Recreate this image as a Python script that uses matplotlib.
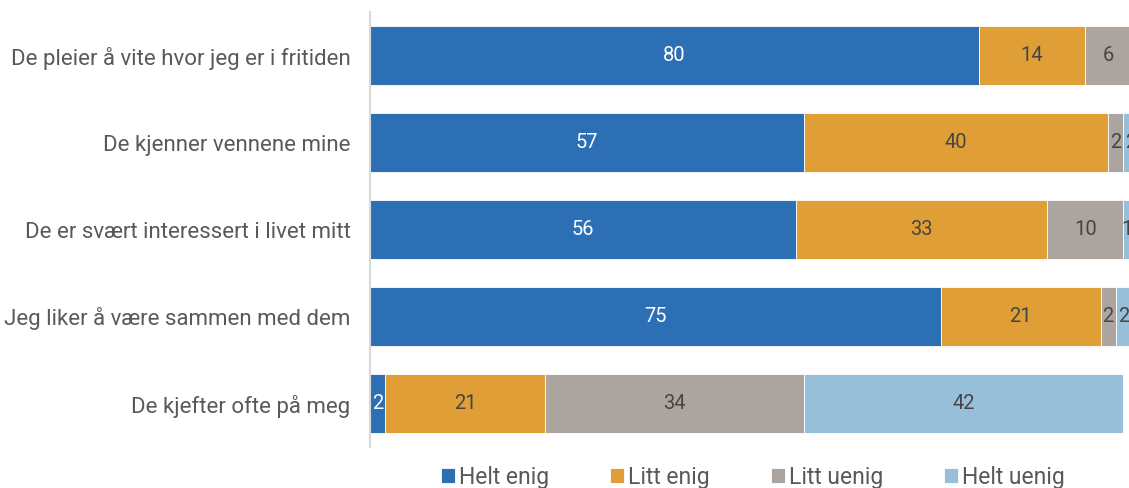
import matplotlib.pyplot as plt
import numpy as np

plt.rcParams['font.family'] = ['Roboto', 'DejaVu Sans']

categories = [
    "De pleier å vite hvor jeg er i fritiden",
    "De kjenner vennene mine",
    "De er svært interessert i livet mitt",
    "Jeg liker å være sammen med dem",
    "De kjefter ofte på meg",
]
series = ["Helt enig", "Litt enig", "Litt uenig", "Helt uenig"]
helt_enig = [80, 57, 56, 75, 2]
litt_enig = [14, 40, 33, 21, 21]
litt_uenig = [6, 2, 10, 2, 34]
helt_uenig = [1, 2, 1, 2, 42]
values = [helt_enig, litt_enig, litt_uenig, helt_uenig]

colors = ["#2d6fb5", "#e09f36", "#aca59f", "#97bfd9"]
text_colors = ["white", "#454545", "#454545", "#454545"]

fig = plt.figure(figsize=(11.29, 4.88), dpi=100)
ax = fig.add_axes([370 / 1129, 1 - 447 / 488, 761 / 1129, 435 / 488])

y = np.arange(len(categories))
left = np.zeros(len(categories))
for name, vals, c, tc in zip(series, values, colors, text_colors):
    vals = np.array(vals, dtype=float)
    ax.barh(y, vals, left=left, height=0.667, color=c, label=name,
            edgecolor="white", linewidth=0.6)
    for yi, l, v in zip(y, left, vals):
        ax.text(l + v / 2, yi, f"{v:g}", ha="center", va="center",
                color=tc, fontsize=14.5, clip_on=False)
    left += vals

ax.set_xlim(0, 100)
ax.set_ylim(4.5, -0.5)
ax.set_yticks(y)
ax.set_yticklabels(categories, fontsize=16, color="#595959")
ax.set_xticks([])
ax.tick_params(axis="y", length=0, pad=14)
for s in ["top", "right", "bottom"]:
    ax.spines[s].set_visible(False)
ax.spines["left"].set_color("#d9d9d9")
ax.spines["left"].set_linewidth(1.5)

handles, labels = ax.get_legend_handles_labels()
fig.legend(handles, labels, loc="center", bbox_to_anchor=(0.667, 0.022),
           ncol=4, frameon=False, fontsize=16.5, labelcolor="#595959",
           handlelength=0.6, handleheight=0.6, handletextpad=0.2,
           columnspacing=2.65)

fig.savefig("out.png", dpi=100)
